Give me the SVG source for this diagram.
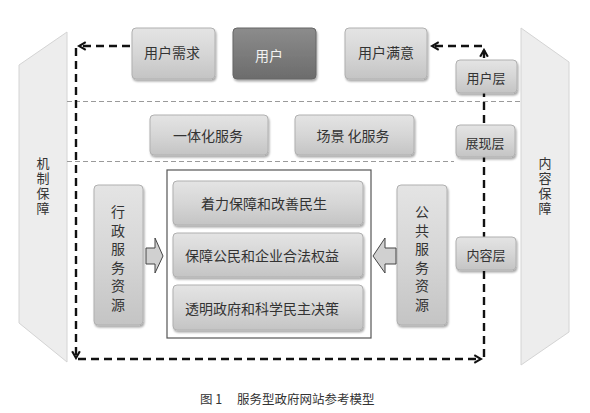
<svg xmlns="http://www.w3.org/2000/svg" width="590" height="413" viewBox="0 0 590 413">
<defs>
<linearGradient id="gl" x1="0" y1="0" x2="0" y2="1">
<stop offset="0" stop-color="#e4e4e4"/>
<stop offset="0.5" stop-color="#d6d6d6"/>
<stop offset="1" stop-color="#c4c4c4"/>
</linearGradient>
<linearGradient id="gd" x1="0" y1="0" x2="0" y2="1">
<stop offset="0" stop-color="#8c8c8c"/>
<stop offset="1" stop-color="#6c6c6c"/>
</linearGradient>
<marker id="ah" viewBox="0 0 10 10" refX="8" refY="5" markerWidth="4" markerHeight="4" orient="auto" markerUnits="strokeWidth">
<path d="M1,1 L8,5 L1,9" fill="none" stroke="#111" stroke-width="2.2"/>
</marker>
<filter id="sh" x="-10%" y="-10%" width="125%" height="130%">
<feGaussianBlur in="SourceAlpha" stdDeviation="1.2"/>
<feOffset dx="1" dy="2" result="b"/>
<feComponentTransfer><feFuncA type="linear" slope="0.35"/></feComponentTransfer>
<feMerge><feMergeNode/><feMergeNode in="SourceGraphic"/></feMerge>
</filter>
</defs>
<style>
.box{fill:url(#gl);stroke:#b0b0b0;stroke-width:1;filter:url(#sh)}
.dark{fill:url(#gd);stroke:#666;stroke-width:1;filter:url(#sh)}
.t{font-family:"Noto Sans CJK SC","Liberation Sans",sans-serif;font-size:14px;fill:#333;text-anchor:middle;dominant-baseline:central}
.ts{font-family:"Noto Sans CJK SC","Liberation Sans",sans-serif;font-size:13px;fill:#333;text-anchor:middle;dominant-baseline:central}
.v{font-family:"Noto Sans CJK SC","Liberation Sans",sans-serif;fill:#333;writing-mode:vertical-rl;text-anchor:start}
.vs{font-size:13px;letter-spacing:2px}
.vb{font-size:14px;letter-spacing:4.5px}
.panel{fill:#ededed;stroke:#d4d4d4;stroke-width:1}
.div{stroke:#9a9a9a;stroke-width:1;stroke-dasharray:5 3;fill:none}
.flow{stroke:#111;stroke-width:2.4;stroke-dasharray:8 5;fill:none}
.barrow{fill:#d0d0d0;stroke:#444;stroke-width:1}
</style>
<rect width="590" height="413" fill="#fff"/>

<g id="left-panel">
<polygon class="panel" points="19,65 67,32 67,362 19,323"/>
<text class="v vs" x="43" y="157">机制保障</text>
</g>
<g id="right-panel">
<polygon class="panel" points="521,28 569,62 569,332 521,365"/>
<text class="v vs" x="545" y="157">内容保障</text>
</g>

<g id="dividers">
<line class="div" x1="67" y1="101.5" x2="521" y2="101.5"/>
<line class="div" x1="67" y1="161.5" x2="454" y2="161.5"/>
</g>

<g id="connectors">
<line class="flow" x1="130" y1="46" x2="79" y2="46" marker-end="url(#ah)"/>
<line class="flow" x1="76" y1="48" x2="76" y2="358" marker-end="url(#ah)"/>
<line class="flow" x1="78" y1="359" x2="481" y2="359" marker-end="url(#ah)"/>
<line class="flow" x1="484" y1="357" x2="484" y2="50" marker-end="url(#ah)"/>
<line class="flow" x1="482" y1="46" x2="432" y2="46" marker-end="url(#ah)"/>
</g>

<g id="n-need"><rect class="box" x="132" y="28" width="83" height="51" rx="4"/><text class="t" x="172" y="52">用户需求</text></g>
<g id="n-user"><rect class="dark" x="233" y="28" width="83" height="51" rx="4"/><text class="t" x="269" y="55" style="fill:#f2f2f2">用户</text></g>
<g id="n-satisfy"><rect class="box" x="345" y="28" width="82" height="51" rx="4"/><text class="t" x="386" y="52">用户满意</text></g>
<g id="n-user-layer"><rect class="box" x="456" y="60" width="61" height="33" rx="4"/><text class="ts" x="486" y="77">用户层</text></g>

<g id="n-integrated"><rect class="box" x="150" y="115" width="118" height="40" rx="4"/><text class="t" x="208" y="135">一体化服务</text></g>
<g id="n-scene"><rect class="box" x="295" y="115" width="119" height="40" rx="4"/><text class="t" x="353" y="135">场景 化服务</text></g>
<g id="n-show-layer"><rect class="box" x="456" y="125" width="59" height="32" rx="4"/><text class="ts" x="485" y="142">展现层</text></g>

<g id="n-container"><rect x="167" y="170" width="204" height="168" fill="#fff" stroke="#555" stroke-width="1.2"/></g>
<g id="n-livelihood"><rect class="box" x="173" y="181" width="190" height="44" rx="4"/><text class="t" x="264" y="203">着力保障和改善民生</text></g>
<g id="n-rights"><rect class="box" x="173" y="233" width="190" height="44" rx="4"/><text class="t" x="262" y="255">保障公民和企业合法权益</text></g>
<g id="n-transparent"><rect class="box" x="173" y="285" width="190" height="45" rx="4"/><text class="t" x="262" y="308">透明政府和科学民主决策</text></g>

<g id="n-admin"><rect class="box" x="94" y="185" width="49" height="140" rx="4"/>
<text class="v vb" x="118" y="205">行政服务资源</text></g>
<g id="n-public"><rect class="box" x="397" y="185" width="50" height="140" rx="4"/>
<text class="v vb" x="422" y="205">公共服务资源</text></g>
<g id="n-content-layer"><rect class="box" x="456" y="237" width="60" height="33" rx="4"/><text class="ts" x="486" y="254">内容层</text></g>

<g id="block-arrows">
<polygon class="barrow" points="146,248 155,248 155,238 163,256 155,273 155,264 146,264"/>
<polygon class="barrow" points="396,248 385,248 385,238 373,256 385,273 385,264 396,264"/>
</g>

<g id="caption">
<text x="200" y="398" style="font-family:'Noto Sans CJK SC','Liberation Serif',serif;font-size:12.5px;fill:#333;dominant-baseline:central">图 1</text>
<text x="237" y="398" style="font-family:'Noto Sans CJK SC','Liberation Serif',serif;font-size:12.5px;fill:#333;dominant-baseline:central">服务型政府网站参考模型</text>
</g>
</svg>
